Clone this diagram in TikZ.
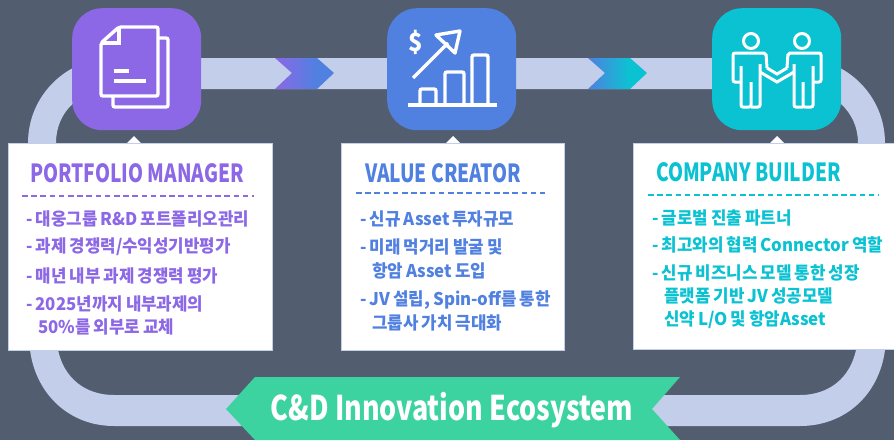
\documentclass[tikz,border=0pt]{standalone}
\usepackage{fontspec}
\newfontfamily\titlefont[FakeStretch=0.765]{Noto Sans CJK KR}
\newfontfamily\bodyfont[FakeStretch=0.96,WordSpace=0.8]{Noto Sans CJK KR}
\newfontfamily\bannerfont[FakeStretch=0.79]{Noto Sans CJK KR}
\usepackage{tikz}
\definecolor{slatebg}{HTML}{525E6F}
\definecolor{bandblue}{HTML}{C3CFEA}
\definecolor{pmpurple}{HTML}{8C68E6}
\definecolor{vcblue}{HTML}{5080E0}
\definecolor{cbteal}{HTML}{0BC2D2}
\definecolor{bannergreen}{HTML}{3DD3A0}
\pgfdeclarehorizontalshading{pmshade}{100bp}{color(0bp)=(pmpurple); color(25bp)=(pmpurple); color(60bp)=(vcblue); color(100bp)=(vcblue)}
\pgfdeclarehorizontalshading{vcshade}{100bp}{color(0bp)=(vcblue); color(25bp)=(vcblue); color(60bp)=(cbteal); color(100bp)=(cbteal)}
\tikzset{
    tile/.style={rounded corners=30pt, minimum width=129pt, minimum height=122pt, inner sep=0pt, anchor=north west},
    card/.style={fill=white, draw=bandblue, line width=0.4pt, inner sep=0pt, anchor=north west},
    title/.style={anchor=west, inner sep=0pt, font=\titlefont\bfseries\fontsize{25}{25}\selectfont},
    item/.style={anchor=west, inner sep=0pt, font=\bodyfont\bfseries\fontsize{17.5}{17.5}\selectfont},
    iconline/.style={draw=white, line width=3.4pt, rounded corners=2pt},
    divider/.style={line width=2pt, dash pattern=on 5.5pt off 3.7pt}
}
\begin{document}
\begin{tikzpicture}[x=1pt, y=-1pt]
    \fill[slatebg] (0,0) rectangle (894,440);
    \useasboundingbox (0,0) rectangle (894,440);

    \fill[bandblue, even odd rule] (113,58) -- (800,58)
        .. controls (847,58) and (885,96) .. (885,143) -- (885,350)
        .. controls (879,395) and (845,426) .. (800,426) -- (114,426)
        .. controls (70,426) and (36,395) .. (30,350) -- (28,143)
        .. controls (28,96) and (66,58) .. (113,58) -- cycle
        (113,89) -- (800,89)
        .. controls (832,89) and (858,111) .. (858,143) -- (856,350)
        .. controls (850,378) and (829,395) .. (800,395) -- (114,395)
        .. controls (85,395) and (64,378) .. (58,350) -- (56,143)
        .. controls (56,111) and (81,89) .. (113,89) -- cycle;

    \shade[shading=pmshade] (275,58) -- (317,58) -- (334,73) -- (317,89) -- (275,89) -- (292,73) -- cycle;
    \shade[shading=vcshade] (588,58) -- (630,58) -- (647,73) -- (630,89) -- (588,89) -- (605,73) -- cycle;

    \node[tile, fill=pmpurple] at (72,8) (pmtile) {};
    \node[tile, fill=vcblue] at (387,8) (vctile) {};
    \node[tile, fill=cbteal] at (712,8) (cbtile) {};

    \fill[white] (127,143) -- (134,136) -- (141,143) -- cycle;
    \fill[white] (446,143) -- (453,136) -- (460,143) -- cycle;
    \fill[white] (770,143) -- (777,136) -- (784,143) -- cycle;

    \node[card, minimum width=264pt, minimum height=207pt] at (8,143) (pmcard) {};
    \node[card, minimum width=223pt, minimum height=207pt] at (341,143) (vccard) {};
    \node[card, minimum width=262pt, minimum height=206pt] at (633,143) (cbcard) {};

    % document icon
    \draw[iconline] (119,27) -- (158,27) -- (158,96) -- (101,96) -- (101,43) -- cycle;
    \draw[iconline, rounded corners=0pt] (119,27) -- (119,43) -- (101,43);
    \draw[iconline] (158,38) -- (168,38) -- (168,107) -- (113,107) -- (113,96);
    \draw[iconline, rounded corners=0pt] (114,71) -- (129,71);
    \draw[iconline, rounded corners=0pt] (114,81) -- (146,81);

    % chart icon
    \draw[iconline, rounded corners=0pt] (408,105) -- (497,105);
    \draw[iconline] (420,105) -- (420,89) -- (436,89) -- (436,105);
    \draw[iconline] (445,105) -- (445,72) -- (464,72) -- (464,105);
    \draw[iconline] (472,105) -- (472,55) -- (488,55) -- (488,105);
    \draw[iconline, rounded corners=0pt] (413,78) -- (448,43);
    \draw[iconline, rounded corners=0pt, line join=round] (436,35) -- (460,31) -- (455,53) -- cycle;
    \node[inner sep=0pt, text=white, font=\bodyfont\bfseries\fontsize{25}{25}\selectfont] at (416,42) (dollar) {\$};

    % partners icon
    \draw[iconline, line width=3pt] (751,41) circle (7.5pt);
    \draw[iconline, line width=3pt] (802,41) circle (7.5pt);
    \draw[iconline, line width=3pt] (767,68) -- (766,53) -- (733,53) -- (733,82) -- (741,82);
    \draw[iconline, line width=3pt] (741,66) -- (741,107) -- (751,107) -- (751,82);
    \draw[iconline, line width=3pt] (751,107) -- (760,107) -- (760,64);
    \draw[iconline, line width=3pt] (787,68) -- (788,53) -- (821,53) -- (821,82) -- (813,82);
    \draw[iconline, line width=3pt] (813,66) -- (813,107) -- (803,107) -- (803,82);
    \draw[iconline, line width=3pt] (803,107) -- (794,107) -- (794,64);
    \draw[iconline, line width=3pt, rounded corners=0pt] (767,68) -- (777,74) -- (787,68);
    \draw[iconline, line width=3pt, rounded corners=0pt] (760,72) -- (777,82) -- (794,72);

    \node[title, text=pmpurple] at (30,173) (pmtitle) {PORTFOLIO MANAGER};
    \node[title, text=vcblue] at (365,173) (vctitle) {VALUE CREATOR};
    \node[title, text=cbteal] at (656,172) (cbtitle) {COMPANY BUILDER};

    \draw[divider, draw=pmpurple] (22,196) -- (254,196);
    \draw[divider, draw=vcblue] (356,193) -- (545,193);
    \draw[divider, draw=cbteal] (648,195) -- (879,195);

    \node[item, text=pmpurple] at (26,219) (pma) {- 대웅그룹 R\&D 포트폴리오관리};
    \node[item, text=pmpurple] at (26,247) (pmb) {- 과제 경쟁력/수익성기반평가};
    \node[item, text=pmpurple] at (26,276) (pmc) {- 매년 내부 과제 경쟁력 평가};
    \node[item, text=pmpurple] at (26,304) (pmd) {- 2025년까지 내부과제의};
    \node[item, text=pmpurple] at (38,327) (pme) {50\%를 외부로 교체};

    \node[item, text=vcblue] at (360,219) (vca) {- 신규 Asset 투자규모};
    \node[item, text=vcblue] at (360,247) (vcb) {- 미래 먹거리 발굴 및};
    \node[item, text=vcblue] at (372,271) (vcc) {항암 Asset 도입};
    \node[item, text=vcblue] at (360,300) (vcd) {- JV 설립, Spin-off를 통한};
    \node[item, text=vcblue] at (372,323) (vce) {그룹사 가치 극대화};

    \node[item, text=cbteal] at (652,218) (cba) {- 글로벌 진출 파트너};
    \node[item, text=cbteal] at (652,245) (cbb) {- 최고와의 협력 Connector 역할};
    \node[item, text=cbteal] at (652,273) (cbc) {- 신규 비즈니스 모델 통한 성장};
    \node[item, text=cbteal] at (664,296) (cbd) {플랫폼 기반 JV 성공모델};
    \node[item, text=cbteal] at (664,320) (cbe) {신약 L/O 및 항암Asset};

    \fill[bannergreen] (226,409) -- (255,377) -- (680,377) -- (652,409) -- (680,440) -- (255,440) -- cycle;
    \node[inner sep=0pt, text=white, font=\bannerfont\bfseries\fontsize{34}{34}\selectfont] at (452,410) (bannertext) {C\&D Innovation Ecosystem};
\end{tikzpicture}
\end{document}
